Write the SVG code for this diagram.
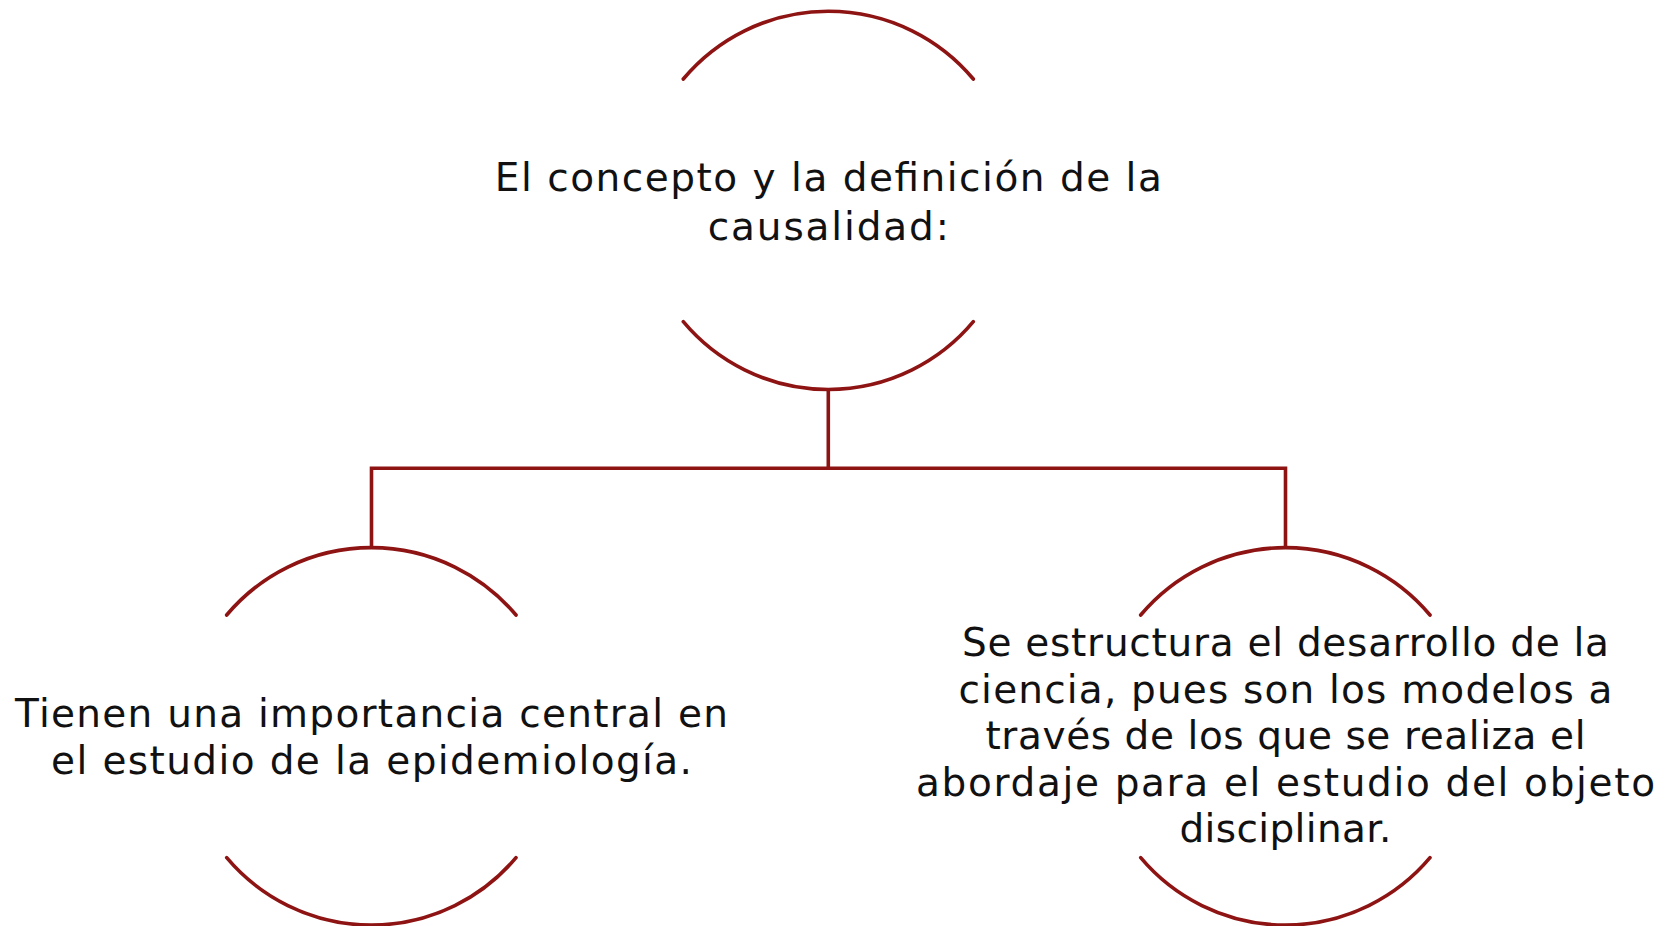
<svg xmlns="http://www.w3.org/2000/svg" width="1665" height="926" viewBox="0 0 1665 926">
<style>
.arc{fill:none;stroke:#8E1414;stroke-width:3.6;stroke-linecap:round}
.con{fill:none;stroke:#8E1414;stroke-width:3.6;stroke-linejoin:miter}
.t{font-family:"DejaVu Sans",sans-serif;font-size:39px;fill:#111111;text-anchor:middle}
</style>
<rect width="1665" height="926" fill="#ffffff"/>
<g id="connectors">
<path class="con" d="M828.3 389 V468.3 M371.5 547.3 V468.3 H1285.5 V547.3"/>
</g>
<g id="node-top">
<path class="arc" d="M683.3 79 A189 189 0 0 1 973.3 79"/>
<path class="arc" d="M683.3 321.7 A189 189 0 0 0 973.3 321.7"/>
<text class="t" x="828.3" y="191" textLength="667" lengthAdjust="spacing">El concepto y la definición de la</text>
<text class="t" x="828.3" y="240" textLength="241" lengthAdjust="spacing">causalidad:</text>
</g>
<g id="node-left">
<path class="arc" d="M226.7 615 A189 189 0 0 1 516 615"/>
<path class="arc" d="M226.7 857.7 A189 189 0 0 0 516 857.7"/>
<text class="t" x="371.5" y="727.3" textLength="713" lengthAdjust="spacing">Tienen una importancia central en</text>
<text class="t" x="371.5" y="773.8" textLength="641" lengthAdjust="spacing">el estudio de la epidemiología.</text>
</g>
<g id="node-right">
<path class="arc" d="M1140.7 615 A189 189 0 0 1 1430 615"/>
<path class="arc" d="M1140.7 857.7 A189 189 0 0 0 1430 857.7"/>
<text class="t" x="1285.5" y="656" textLength="647" lengthAdjust="spacing">Se estructura el desarrollo de la</text>
<text class="t" x="1285.5" y="702.5" textLength="654" lengthAdjust="spacing">ciencia, pues son los modelos a</text>
<text class="t" x="1285.5" y="749" textLength="600" lengthAdjust="spacing">través de los que se realiza el</text>
<text class="t" x="1285.5" y="795.5" textLength="739" lengthAdjust="spacing">abordaje para el estudio del objeto</text>
<text class="t" x="1285.5" y="842" textLength="212" lengthAdjust="spacing">disciplinar.</text>
</g>
</svg>
